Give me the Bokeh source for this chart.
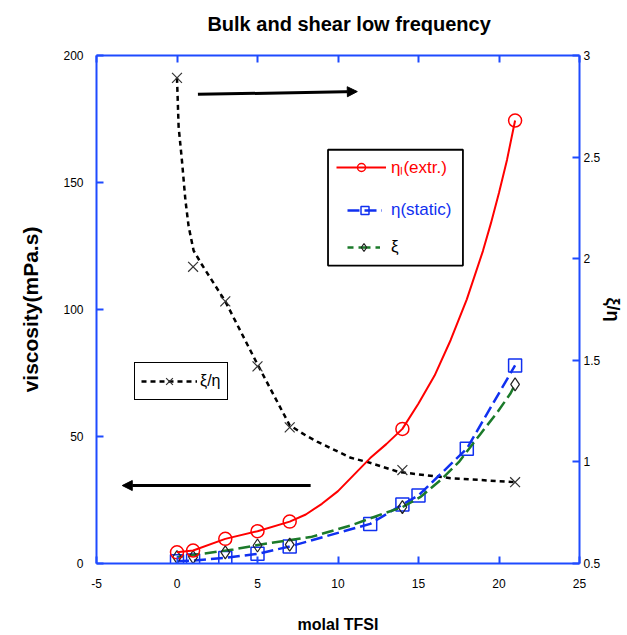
from bokeh.plotting import figure
from bokeh.models import (Range1d, LinearAxis, FixedTicker, Legend, LegendItem,
                          BoxAnnotation, Arrow, NormalHead)
from bokeh.embed import file_html
from bokeh.resources import INLINE

# ---------------- data ----------------
molal = [0, 1, 3, 5, 7, 14, 21]
eta_extr = [4.4, 5.1, 9.7, 12.7, 16.5, 53.0, 174.4]
# fitted curve drawn through eta_L
fit_extr_x = [0, 1, 3, 5, 7, 8, 9, 10, 11, 12, 13, 14, 15, 16, 17, 18, 19, 19.5, 20, 20.5, 21]
fit_extr_y = [4.4, 5.1, 9.7, 12.7, 16.5, 19.3, 23.5, 28.5, 35.0, 41.5, 47.0, 53.0, 63.0, 74.0,
              88.0, 104.0, 123.0, 134.0, 146.0, 159.0, 174.4]

molal_static = [0, 1, 3, 5, 7, 12, 14, 15, 18, 21]
eta_static = [0.9, 1.2, 2.2, 3.8, 6.7, 15.6, 23.2, 26.8, 45.2, 78.0]

xi = [2.5, 2.5, 4.4, 7.1, 7.4, 22.2, 70.5]
fit_xi_x = [0, 3.5, 5.2, 8.3, 10.8, 12.8, 14, 15.1, 16.35, 17.5, 18.85, 19.9, 20.7, 21]
fit_xi_y = [2.5, 5.5, 7.5, 10.4, 15.0, 19.6, 22.2, 26.1, 32.7, 39.9, 51.0, 59.6, 66.8, 70.5]

xi_over_eta = [2.89, 1.96, 1.79, 1.47, 1.17, 0.96, 0.90]
fit_ratio_x = [0, 0.1, 0.31, 0.52, 0.72, 1.03, 1.55, 3, 5, 7, 8, 8.7, 10.8, 11.8, 13.8, 17, 21]
fit_ratio_y = [2.89, 2.65, 2.48, 2.29, 2.16, 2.04, 1.97, 1.79, 1.48, 1.18, 1.13, 1.10, 1.02,
               1.00, 0.95, 0.92, 0.90]

x_ticks = [-5, 0, 5, 10, 15, 20, 25]
y_ticks = [0, 50, 100, 150, 200]
r_ticks = [0.5, 1, 1.5, 2, 2.5, 3]

title_text = "Bulk and shear low frequency"
# annotation arrows (start x, start y, end x, end y)
arrow_right = [1.3, 184.7, 11.2, 185.8]
arrow_left = [8.3, 30.7, -3.4, 30.7]

AXIS_BLUE = "#1E4BFF"
RED = "#FF0000"
BLUE = "#1030F0"
GREEN = "#1B7A2A"
FONT = "Liberation Sans"

p = figure(width=627, height=635, x_range=Range1d(-5, 25), y_range=Range1d(0, 200),
           output_backend="svg", toolbar_location=None,
           min_border_left=96, min_border_right=48, min_border_top=55, min_border_bottom=72)
p.extra_y_ranges = {"r": Range1d(0.5, 3)}
p.grid.visible = False
p.outline_line_color = None
p.background_fill_color = "white"
p.border_fill_color = "white"


def style(ax, ticks, labels=True):
    ax.ticker = FixedTicker(ticks=ticks)
    ax.axis_line_color = AXIS_BLUE
    ax.axis_line_width = 2
    ax.major_tick_line_color = AXIS_BLUE
    ax.major_tick_line_width = 2
    ax.major_tick_in = 7
    ax.major_tick_out = 0
    ax.minor_tick_line_color = None
    ax.major_label_text_font = FONT
    ax.major_label_text_font_size = "12px" if labels else "0px"
    ax.major_label_text_color = "black"
    ax.axis_label_text_font = FONT
    ax.axis_label_text_font_style = "bold"
    ax.axis_label_text_font_size = "16px"
    ax.axis_label_text_color = "black"


xa = p.xaxis[0]
style(xa, x_ticks)
xa.major_label_overrides = {-5: "-5"}
xa.axis_label = "molal TFSI"
xa.major_label_standoff = 15
xa.axis_label_standoff = 25

ya = p.yaxis[0]
style(ya, y_ticks)
ya.axis_label = "viscosity(mPa.s)"
ya.axis_label_text_font_size = "21px"
ya.major_label_standoff = 13
ya.axis_label_standoff = 18

# top frame axis carries the chart title as its label
top = LinearAxis()
style(top, x_ticks, labels=False)
top.major_label_standoff = 0
top.axis_label = "\u00a0\u00a0\u00a0\u00a0" + title_text
top.axis_label_text_font_size = "20px"
top.axis_label_standoff = 21
p.add_layout(top, "above")

ra = LinearAxis(y_range_name="r")
style(ra, r_ticks)
ra.axis_label = "ξ/η"
ra.axis_label_text_font_size = "18px"
ra.major_label_standoff = 4
ra.axis_label_standoff = 0
p.add_layout(ra, "right")

# ---------------- series ----------------
ratio_line = p.line(fit_ratio_x, fit_ratio_y, y_range_name="r", line_color="black",
                    line_width=2.5, line_dash="5 4")
ratio_pts = p.scatter(molal, xi_over_eta, y_range_name="r", marker="x", size=14,
                      line_color="#333333", line_width=1.2)

static_line = p.line(molal_static, eta_static, line_color=BLUE, line_width=2.5, line_dash="12 5")
static_pts = p.scatter(molal_static, eta_static, marker="square", size=13, fill_color=None,
                       line_color=BLUE, line_width=1.5)

xi_line = p.line(fit_xi_x, fit_xi_y, line_color=GREEN, line_width=2.5, line_dash="12 5",
                 line_dash_offset=6)
xi_pts = p.scatter(molal, xi, marker="diamond", size=13, fill_color=None,
                   line_color="#222222", line_width=1.2)

extr_line = p.line(fit_extr_x, fit_extr_y, line_color=RED, line_width=2)
extr_pts = p.scatter(molal, eta_extr, marker="circle", size=13, fill_color=None,
                     line_color=RED, line_width=1.5)

# ---------------- arrows ----------------
for a in (arrow_right, arrow_left):
    p.add_layout(Arrow(end=NormalHead(size=10, fill_color="black", line_color="black"),
                       x_start=a[0], y_start=a[1], x_end=a[2], y_end=a[3],
                       line_color="black", line_width=3))

# ---------------- legends ----------------
p.add_layout(BoxAnnotation(left=9.38, right=17.76, bottom=117.3, top=162.9,
                           fill_color=None, line_color="black", line_alpha=1, line_width=1.8))


def one_item_legend(label, rends, loc, gw, standoff, color):
    return Legend(items=[LegendItem(label=label, renderers=rends)], location=loc,
                  padding=0, spacing=0, margin=0, glyph_width=gw, glyph_height=20,
                  label_height=20, label_standoff=standoff,
                  label_text_color=color, label_text_font=FONT, label_text_font_size="17px",
                  background_fill_alpha=0, border_line_alpha=0)


p.add_layout(one_item_legend("ηₗ(extr.)", [extr_line, extr_pts], (240, 385), 50, 5, RED), "center")
p.add_layout(one_item_legend("η(static)", [static_line, static_pts], (251, 343), 35, 9, BLUE), "center")
p.add_layout(one_item_legend("ξ", [xi_line, xi_pts], (251, 306), 33, 11, "black"), "center")

small = Legend(items=[LegendItem(label="ξ/η", renderers=[ratio_line, ratio_pts])],
               location=(38, 163), padding=6, spacing=0, margin=0, glyph_width=56,
               glyph_height=24, label_height=24, label_standoff=3,
               label_text_font=FONT, label_text_font_size="16px", label_text_color="black",
               border_line_color="black", border_line_width=1, border_line_alpha=1,
               background_fill_color="white", background_fill_alpha=1)
p.add_layout(small, "center")

open("out.html", "w").write(file_html(p, INLINE))
